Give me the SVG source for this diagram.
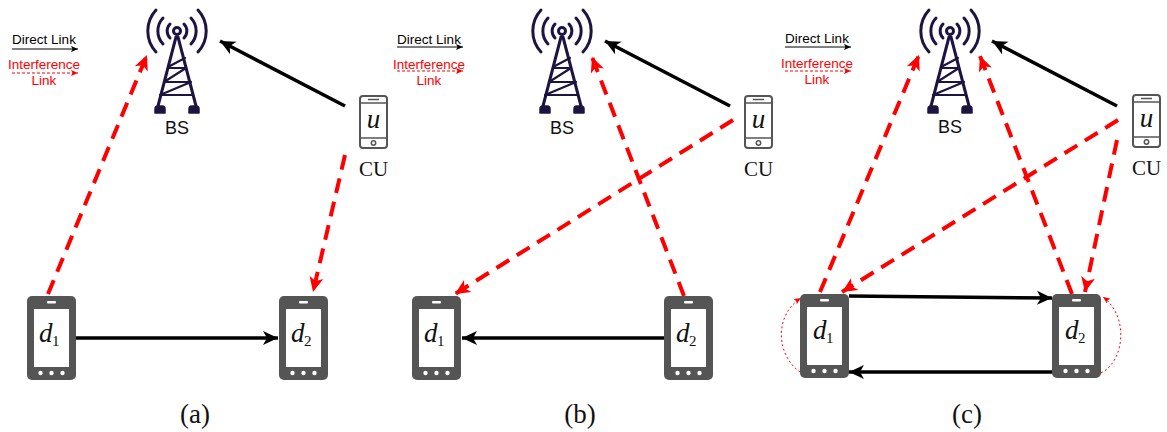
<svg xmlns="http://www.w3.org/2000/svg" width="1167" height="432" viewBox="0 0 1167 432">
<style>
.leg{font-family:"Liberation Sans",Arial,sans-serif;font-size:13.5px;text-anchor:middle}
.red{fill:#ff0000}
.bs{font-family:"Liberation Sans",Arial,sans-serif;font-size:18px;text-anchor:middle;fill:#111}
.cu{font-family:"Liberation Serif","Times New Roman",serif;font-size:21px;text-anchor:middle;fill:#111}
.cap{font-family:"Liberation Serif","Times New Roman",serif;font-size:27px;text-anchor:middle;fill:#111}
.m{font-family:"Liberation Serif","Times New Roman",serif;font-style:italic;font-size:27px;fill:#111}
.s{font-family:"Liberation Serif","Times New Roman",serif;font-size:15px;fill:#111}
.k{stroke:#000;stroke-width:3.5;fill:none;marker-end:url(#ak)}
.r{stroke:#ff0000;stroke-width:4;stroke-dasharray:15 9;fill:none;marker-end:url(#ar)}
.lk{stroke:#000;stroke-width:1;fill:none;marker-end:url(#sk)}
.lr{stroke:#ff0000;stroke-width:1;stroke-dasharray:3 2;fill:none;marker-end:url(#sr)}
.loop{stroke:#ff0000;stroke-width:1;stroke-dasharray:2 2.5;fill:none;marker-end:url(#sr)}
</style>
<defs>
<marker id="ak" markerUnits="userSpaceOnUse" markerWidth="18" markerHeight="16" refX="15" refY="8" orient="auto" overflow="visible"><path d="M0 1L15 8L0 15L4 8Z" fill="#000"/></marker>
<marker id="ar" markerUnits="userSpaceOnUse" markerWidth="18" markerHeight="16" refX="15" refY="8" orient="auto" overflow="visible"><path d="M0 1L15 8L0 15L4 8Z" fill="#ff0000"/></marker>
<marker id="sk" markerUnits="userSpaceOnUse" markerWidth="8" markerHeight="6" refX="7" refY="3" orient="auto"><path d="M0 0L7 3L0 6L1.5 3Z" fill="#000"/></marker>
<marker id="sr" markerUnits="userSpaceOnUse" markerWidth="8" markerHeight="6" refX="7" refY="3" orient="auto"><path d="M0 0L7 3L0 6L1.5 3Z" fill="#ff0000"/></marker>
<g id="tower" fill="none" stroke="#1e1440" stroke-linecap="round" stroke-linejoin="round">
<circle cx="0" cy="31" r="3.5" stroke-width="3"/>
<path d="M-7 38A10 10 0 0 1 -7 24M7 38A10 10 0 0 0 7 24" stroke-width="3"/>
<path d="M-14 44A19 19 0 0 1 -14 18M14 44A19 19 0 0 0 14 18" stroke-width="3"/>
<path d="M-21 52A31 31 0 0 1 -21 10M21 52A31 31 0 0 0 21 10" stroke-width="3"/>
<path d="M-1 37L-19 106M1 37L19 106" stroke-width="3"/>
<path d="M-8 68H8M-12 82H12M-16 95H16M-9 67L8 58M-13 82L9 68M-17 95L14 82" stroke-width="2.2"/>
<path d="M-22 113V109Q-22 106 -19 106H-15Q-12 106 -12 109V113ZM22 113V109Q22 106 19 106H15Q12 106 12 109V113Z" fill="#1e1440" stroke-width="1.5"/>
</g>
<g id="cuphone">
<rect x="1" y="1" width="27" height="52" rx="3" fill="#fff" stroke="#555" stroke-width="2"/>
<path d="M1 8H28M1 43H28" stroke="#555" stroke-width="1.6"/>
<path d="M9 4.500H20" stroke="#555" stroke-width="1.500"/>
<circle cx="14.500" cy="48" r="2.200" fill="none" stroke="#555" stroke-width="1.500"/>
</g>
<g id="device">
<rect x="0" y="0" width="49" height="84" rx="5" fill="#555"/>
<rect x="7" y="13" width="35" height="58" fill="#fff"/>
<rect x="20" y="5" width="9" height="2.500" rx="1" fill="#fff"/>
<circle cx="13.500" cy="77" r="2.200" fill="#fff"/><circle cx="24.500" cy="77" r="2.200" fill="#fff"/><circle cx="35.500" cy="77" r="2.200" fill="#fff"/>
</g>
</defs>
<rect width="1167" height="432" fill="#fff"/>

<g id="connectors">
<path class="k" d="M76 338H278"/>
<path class="k" d="M345 106L220 41"/>
<path class="r" d="M48 294L147 55"/>
<path class="r" d="M345 155L313 292"/>

<path class="k" d="M664 338H462"/>
<path class="k" d="M730 106L605 41"/>
<path class="r" d="M684 296L592 57"/>
<path class="r" d="M733 120L455 294"/>

<path class="k" d="M849 296L1052 298"/>
<path class="k" d="M1052 372H849"/>
<path class="k" d="M1117 106L992 41"/>
<path class="r" d="M820 292L919 55"/>
<path class="r" d="M1072 294L980 56"/>
<path class="r" d="M1118 120L842 292"/>
<path class="r" d="M1117 140L1085 292"/>
<path class="loop" d="M800 372C776 355 774 315 801 298"/>
<path class="loop" d="M1101 373C1126 360 1128 315 1103 297"/>

<path class="lk" d="M12 49H78"/>
<path class="lr" d="M12 73H78"/>
<path class="lk" d="M397 47H463"/>
<path class="lr" d="M397 71H463"/>
<path class="lk" d="M785 47H851"/>
<path class="lr" d="M785 71H851"/>
</g>

<g id="legend-a"><text class="leg" x="44" y="44">Direct Link</text><text class="leg red" x="44" y="69">Interference</text><text class="leg red" x="44" y="85">Link</text></g>
<g id="legend-b"><text class="leg" x="429" y="44">Direct Link</text><text class="leg red" x="429" y="69">Interference</text><text class="leg red" x="429" y="85">Link</text></g>
<g id="legend-c"><text class="leg" x="817" y="43">Direct Link</text><text class="leg red" x="817" y="68">Interference</text><text class="leg red" x="817" y="84">Link</text></g>

<g id="bs-a"><use href="#tower" x="177"/><text class="bs" x="177" y="134">BS</text></g>
<g id="bs-b"><use href="#tower" x="562"/><text class="bs" x="562" y="134">BS</text></g>
<g id="bs-c"><use href="#tower" x="950"/><text class="bs" x="950" y="133">BS</text></g>

<g id="cu-a"><use href="#cuphone" x="359" y="95"/><text class="m" x="373.500" y="128" text-anchor="middle">u</text><text class="cu" x="373.500" y="176">CU</text></g>
<g id="cu-b"><use href="#cuphone" x="744" y="95"/><text class="m" x="758.500" y="128" text-anchor="middle">u</text><text class="cu" x="758.500" y="176">CU</text></g>
<g id="cu-c"><use href="#cuphone" x="1132" y="94"/><text class="m" x="1146.500" y="127" text-anchor="middle">u</text><text class="cu" x="1146.500" y="175">CU</text></g>

<g id="d1-a"><use href="#device" x="27" y="296"/><text class="m" x="39" y="342">d</text><text class="s" x="52" y="346">1</text></g>
<g id="d2-a"><use href="#device" x="279" y="296"/><text class="m" x="291" y="342">d</text><text class="s" x="304" y="346">2</text></g>
<g id="d1-b"><use href="#device" x="412" y="296"/><text class="m" x="424" y="342">d</text><text class="s" x="437" y="346">1</text></g>
<g id="d2-b"><use href="#device" x="664" y="296"/><text class="m" x="676" y="342">d</text><text class="s" x="689" y="346">2</text></g>
<g id="d1-c"><use href="#device" x="800" y="294"/><text class="m" x="813" y="339">d</text><text class="s" x="826" y="343">1</text></g>
<g id="d2-c"><use href="#device" x="1052" y="294"/><text class="m" x="1065" y="339">d</text><text class="s" x="1078" y="343">2</text></g>

<text class="cap" x="195" y="423">(a)</text>
<text class="cap" x="580" y="423">(b)</text>
<text class="cap" x="967" y="423">(c)</text>
</svg>
